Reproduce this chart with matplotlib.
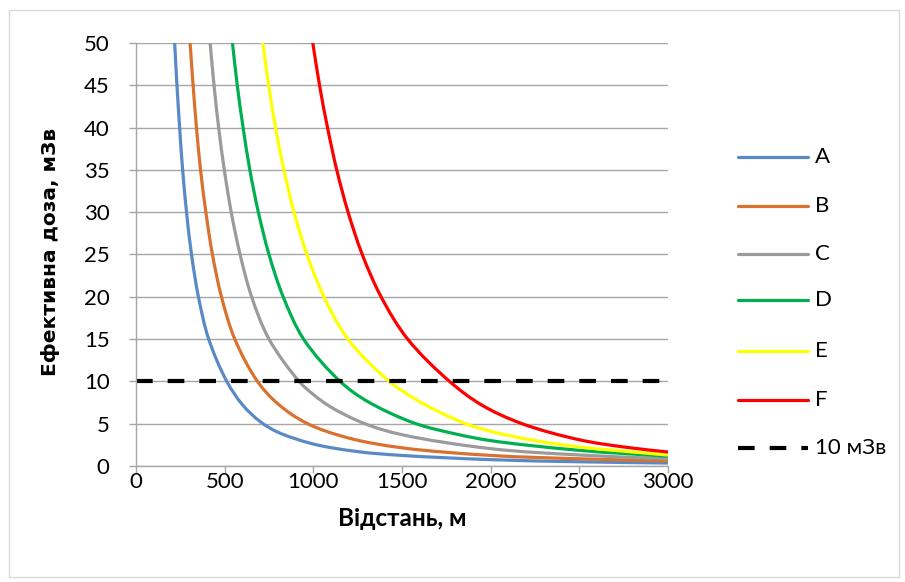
import matplotlib
matplotlib.use("Agg")
import numpy as np
import matplotlib.pyplot as plt
from matplotlib.patches import Rectangle, PathPatch
from matplotlib.path import Path
from matplotlib.lines import Line2D

plt.rcParams['font.family'] = ['Lato', 'DejaVu Sans']

# Data (distance, m -> effective dose, mSv)
dist_A = [218, 231, 246, 263, 285, 313, 352, 410, 512, 600, 700, 800, 1000, 1250, 1500, 2000, 2500, 3000]
dose_A = [50, 45, 40, 35, 30, 25, 20, 15, 10, 7.25, 5.25, 4.0, 2.6, 1.7, 1.25, 0.75, 0.5, 0.35]

dist_B = [305, 322, 341, 364, 394, 431, 482, 557, 685, 800, 963, 1200, 1500, 2000, 2500, 3000]
dose_B = [50, 45, 40, 35, 30, 25, 20, 15, 10, 7.35, 5.05, 3.3, 2.15, 1.25, 0.85, 0.6]

dist_C = [418, 440, 466, 498, 537, 587, 652, 750, 920, 1000, 1100, 1290, 1500, 2000, 2500, 3000]
dose_C = [50, 45, 40, 35, 30, 25, 20, 15, 10, 8.45, 6.95, 5.0, 3.7, 2.05, 1.3, 0.85]

dist_D = [544, 571, 604, 642, 690, 750, 830, 945, 1151, 1300, 1565, 1800, 2000, 2500, 3000]
dose_D = [50, 45, 40, 35, 30, 25, 20, 15, 10, 7.7, 5.1, 3.8, 3.0, 1.85, 1.15]

dist_E = [715, 748, 787, 834, 891, 964, 1060, 1195, 1429, 1600, 1847, 2000, 2250, 2500, 3000]
dose_E = [50, 45, 40, 35, 30, 25, 20, 15, 10, 7.6, 5.1, 4.1, 3.0, 2.25, 1.3]

dist_F = [997, 1035, 1080, 1132, 1196, 1276, 1382, 1532, 1768, 1950, 2177, 2500, 2750, 3000]
dose_F = [50, 45, 40, 35, 30, 25, 20, 15, 10, 7.2, 5.0, 3.1, 2.25, 1.65]

limit_x = [0, 3000]
limit_y = [10, 10]

series = [
    ("A", dist_A, dose_A, "#5A8AC6"),
    ("B", dist_B, dose_B, "#D9722E"),
    ("C", dist_C, dose_C, "#9B9B9B"),
    ("D", dist_D, dose_D, "#00B050"),
    ("E", dist_E, dose_E, "#FFFF00"),
    ("F", dist_F, dose_F, "#FF0000"),
]

X_MAX, Y_MAX = 3000, 50
W, H = 905, 582
AX_L, AX_R, AX_T, AX_B = 136, 668, 43, 466


def smooth_path(xs, ys):
    """Smoothed line (like Excel's 'smoothed line'): centripetal Catmull-Rom
    through the given points, expressed as cubic Bezier segments."""
    sx = (AX_R - AX_L) / X_MAX
    sy = (AX_B - AX_T) / Y_MAX
    P = np.column_stack([np.asarray(xs, float) * sx, np.asarray(ys, float) * sy])
    n = len(P)
    ext = np.vstack([2 * P[0] - P[1], P, 2 * P[-1] - P[-2]])
    verts = [P[0]]
    codes = [Path.MOVETO]
    for i in range(1, n):
        p0, p1, p2, p3 = ext[i - 1], ext[i], ext[i + 1], ext[i + 2]
        d0 = max(np.linalg.norm(p1 - p0) ** 0.5, 1e-6)
        d1 = max(np.linalg.norm(p2 - p1) ** 0.5, 1e-6)
        d2 = max(np.linalg.norm(p3 - p2) ** 0.5, 1e-6)
        m1 = (p1 - p0) / d0 - (p2 - p0) / (d0 + d1) + (p2 - p1) / d1
        m2 = (p2 - p1) / d1 - (p3 - p1) / (d1 + d2) + (p3 - p2) / d2
        c1 = p1 + m1 * d1 / 3.0
        c2 = p2 - m2 * d1 / 3.0
        verts += [c1, c2, p2]
        codes += [Path.CURVE4] * 3
    V = np.array(verts)
    V[:, 0] /= sx
    V[:, 1] /= sy
    return Path(V, codes)


fig = plt.figure(figsize=(W / 100, H / 100), dpi=100)
ax = fig.add_axes([AX_L / W, 1 - AX_B / H, (AX_R - AX_L) / W, (AX_B - AX_T) / H])

# chart border
fig.patches.append(Rectangle((9 / W, 1 - 577 / H), (899 - 9) / W, (577 - 10) / H,
                             transform=fig.transFigure, fill=False,
                             edgecolor="#D9D9D9", linewidth=1.0))

LW = 2.3
for name, d, v, c in series:
    patch = PathPatch(smooth_path(d, v), facecolor="none", edgecolor=c, lw=LW,
                      capstyle="round", joinstyle="round")
    ax.add_patch(patch)

DASH = (0, (4.0, 3.6))
ax.plot(limit_x, limit_y, color="black", lw=3.0, linestyle=DASH, dash_capstyle="butt")

ax.set_xlim(0, X_MAX)
ax.set_ylim(0, Y_MAX)
ax.set_xticks(range(0, 3001, 500))
ax.set_yticks(range(0, 51, 5))
ax.yaxis.grid(True, color="#A6A6A6", lw=1.0)
ax.set_axisbelow(True)
for s in ["top", "right"]:
    ax.spines[s].set_visible(False)
for s in ["left", "bottom"]:
    ax.spines[s].set_color("#A6A6A6")
    ax.spines[s].set_linewidth(1.0)
ax.tick_params(axis="both", colors="#A6A6A6", labelcolor="black", labelsize=16, length=5, width=1.0)
ax.tick_params(axis="x", pad=-1)
ax.tick_params(axis="y", pad=14)

fig.text(402 / W, 1 - 518 / H, "Відстань, м", fontsize=17.5, fontweight="bold",
         ha="center", va="center")
fig.text(50 / W, 1 - 252 / H, "Ефективна доза, мЗв", fontsize=14.5, fontweight="bold",
         family=["DejaVu Sans"], rotation=90, ha="center", va="center")

# legend (drawn manually to match placement)
leg_y = [157, 206, 254, 300, 351, 400, 448]
for (name, d, v, c), yy in zip(series, leg_y):
    fig.lines.append(Line2D([738 / W, 808 / W], [1 - yy / H] * 2, transform=fig.transFigure,
                            color=c, lw=LW, solid_capstyle="round"))
    fig.text(815 / W, 1 - yy / H, name, fontsize=16, ha="left", va="center")
fig.lines.append(Line2D([738 / W, 808 / W], [1 - leg_y[-1] / H] * 2, transform=fig.transFigure,
                        color="black", lw=3.0, linestyle=DASH, dash_capstyle="butt"))
fig.text(815 / W, 1 - leg_y[-1] / H, "10 мЗв", fontsize=16, ha="left", va="center")

fig.savefig("out.png", dpi=100)
